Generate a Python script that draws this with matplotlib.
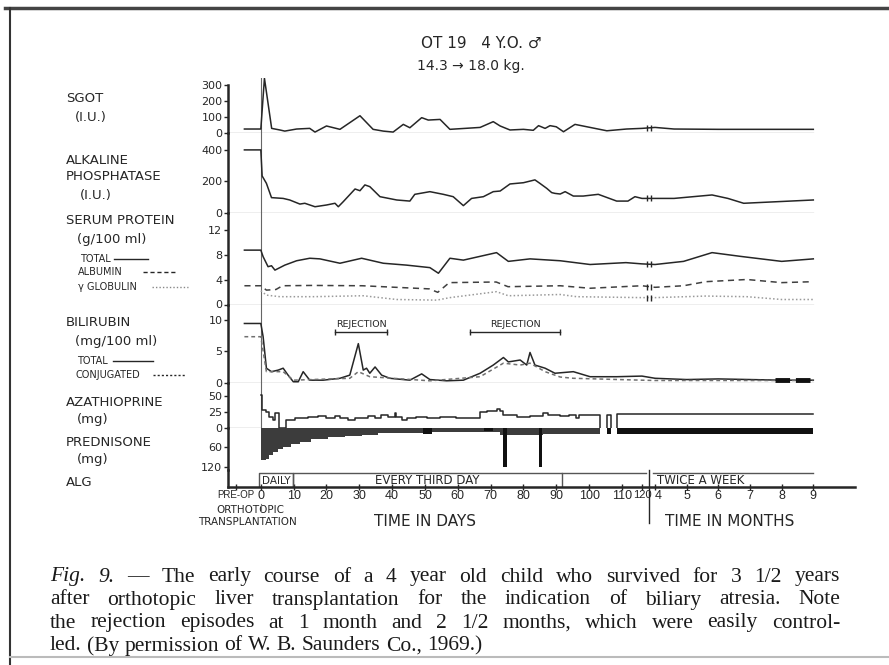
import numpy as np
import matplotlib
matplotlib.use("Agg")
import matplotlib.pyplot as plt

nan = np.nan

# ---- data (days after transplant / months) ----
SGOT_DAYS = [-5, 0, 1.1, 3.3, 5.8, 7.3, 10.9, 14.9, 16.5, 20, 24.1, 30.2, 34.2, 37.3, 40.3, 43.4,
             45.4, 49, 51, 54.6, 57.6, 66.8, 70.8, 72.9, 75.9, 80, 83, 84.6, 86.6, 88.1, 90,
             92.2, 95.7, 100.3, 105.4, 112.3, 120]
SGOT_IU = [23, 23, 340, 27, 17, 10, 23, 27, 4, 42, 21, 106, 21, 10, 4, 52,
           31, 94, 79, 83, 21, 33, 69, 42, 17, 21, 15, 44, 27, 44, 37,
           6, 52, 33, 12, 23, 27]
SGOT_MONTHS = [4, 4.6, 6, 8, 9]
SGOT_IU_M = [33, 23, 21, 21, 21]

ALK_DAYS = [-5, 0, 0.4, 1.7, 3.25, 6.8, 8.8, 11.9, 13.4, 16.5, 20, 22.6, 23.6, 25.1, 28.7, 30.2,
            31.7, 33.2, 36.3, 41.4, 45.4, 46.9, 51.5, 55.6, 58.6, 61.7, 64.2, 67.8, 70.8,
            72.9, 75.9, 80, 83.5, 85, 87.1, 88.6, 89.6, 91.2, 92.7, 95.2, 98.2, 102.8,
            108.4, 113, 116.5, 120]
ALK_IU = [400, 400, 234, 187, 96, 91, 81, 55, 60, 38, 49, 60, 38, 70, 151, 140,
          177, 166, 102, 81, 74, 117, 134, 117, 102, 45, 91, 102, 134,
          138, 183, 191, 209, 187, 155, 128, 123, 119, 134, 106, 106, 117,
          74, 74, 102, 91]
ALK_MONTHS = [4, 4.6, 5.8, 6.3, 6.8, 9]
ALK_IU_M = [91, 91, 113, 91, 60, 81]

TP_DAYS = [-5, 0, 0.7, 2.2, 3.25, 4.3, 7.3, 10.9, 14.9, 18, 24.1, 30.7, 37.3, 44.4, 51.5,
           54.1, 57.6, 61.7, 71.8, 75.4, 82, 91.2, 100.3, 112, 120]
TP_G = [8.7, 8.7, 7.65, 6.05, 6.2, 5.5, 6.3, 7.0, 7.4, 7.3, 6.6, 7.4, 6.6, 6.3, 5.9,
        5.0, 7.4, 7.1, 8.3, 6.9, 7.3, 7.0, 6.4, 6.7, 6.5]
TP_MONTHS = [4, 4.9, 5.8, 6.7, 8, 9]
TP_G_M = [6.4, 6.9, 8.3, 7.7, 6.9, 7.3]

ALB_DAYS = [-5, 0, 1.7, 4.6, 6.6, 15.7, 30.9, 41.1, 51.3, 53.9, 57.4, 71.7, 75.3, 91.2,
            100.3, 120]
ALB_G = [3.0, 3.0, 2.3, 2.4, 3.0, 3.05, 3.0, 2.75, 2.5, 1.95, 3.5, 3.6, 2.85, 3.0, 2.6, 3.0]
ALB_MONTHS = [4, 4.9, 5.6, 6.9, 8, 9]
ALB_G_M = [2.75, 3.0, 3.65, 4.0, 3.5, 3.65]

GG_DAYS = [0, 1.7, 5.8, 15.9, 31.2, 41.4, 53.6, 57.6, 71.8, 75.4, 91.2, 96.2, 120]
GG_G = [2.2, 1.5, 1.25, 1.25, 1.4, 0.8, 0.7, 1.1, 2.05, 1.4, 1.6, 1.25, 1.1]
GG_MONTHS = [4, 5.6, 6.9, 8, 9]
GG_G_M = [1.1, 1.35, 1.25, 0.8, 0.8]

BILI_DAYS = [-5, 0, 0.7, 1.7, 3.25, 5.3, 6.8, 8.3, 9.9, 11.4, 12.9, 14.9, 19, 24.1, 27.1,
             29.7, 31.2, 32.2, 33.2, 34.8, 36.8, 39.3, 45.4, 49, 51.5, 56.6, 61.7, 66.8,
             70.8, 73.9, 75.4, 79, 81, 82, 83.5, 86.6, 89.6, 95.2, 100.3, 108.4, 120]
BILI_MG = [9.4, 9.4, 7.3, 2.3, 1.75, 2.0, 2.3, 1.2, 0.15, 0.15, 1.75, 0.4, 0.4, 0.7, 1.2,
           6.2, 2.0, 2.3, 1.5, 2.5, 1.2, 0.7, 0.4, 1.4, 0.5, 0.3, 0.4, 1.5,
           2.8, 4.0, 3.3, 3.6, 2.8, 4.8, 2.8, 2.3, 1.5, 1.75, 0.95, 0.95, 1.05]
BILI_MONTHS = [4, 5, 6, 7, 8, 9]
BILI_MG_M = [0.7, 0.5, 0.6, 0.5, 0.4, 0.4]

CONJ_DAYS = [-5, 0, 1.7, 6.8, 9.9, 27.1, 29.7, 33.2, 51.5, 66.8, 73.9, 79, 82, 86.6, 91.2,
             95.2, 120]
CONJ_MG = [7.3, 7.3, 1.75, 1.75, 0.4, 0.7, 1.75, 0.95, 0.3, 0.95, 3.1, 2.8, 3.1, 1.75, 0.9,
           0.7, 0.4]
CONJ_MONTHS = [4, 9]
CONJ_MG_M = [0.35, 0.35]
BILI_BLOCK_MONTHS = [7.8, 9]
BILI_BLOCK_MG = [0.35, 0.35]

REJ_START = [22.6, 63.7]
REJ_END = [38.4, 91.2]

AZA_DAYS = [0, 0.4, 1.6, 2.6, 3.7, 4.2, 5.4, 7.7, 10.3, 14.3, 17.4, 19.9, 22.5, 24, 26.5,
            28.6, 32.6, 34.7, 36.7, 38.7, 40.8, 41.3, 42.9, 44.4, 47.4, 50.5, 54.5, 59.6,
            63.7, 66.7, 69, 71.8, 72.8, 73.9, 77.9, 82, 86.1, 87.5, 91, 94, 96, 97,
            103.4, 103.4, 105.5, 105.5, 106.7, 106.7, 108.4, 108.4, 120]
AZA_MG = [52, 28, 25, 17, 12, 24, 0, 12, 16, 17, 19, 15, 19, 15, 13,
          15, 18, 16, 20, 17, 23, 17, 12, 15, 17, 16, 17, 16,
          15, 25, 27, 30, 26, 20, 17, 18, 24, 20, 19, 20, 16, 20,
          0, nan, 0, 20, 0, nan, 0, 21, 21]
AZA_MONTHS = [4, 9]
AZA_MG_M = [21, 21]

PRED_DAYS = [0, 1.6, 2.6, 3.7, 5.2, 6.8, 9.3, 11.9, 15.4, 20.5, 25.6, 30.7, 35.7, 41.8, 50,
             60, 71, 72.8, 86, 103.4, 103.4, 105.5, 106.7, 106.7, 108.4, 120]
PRED_MG = [99, 96, 84, 74, 66, 58, 51, 43, 36, 30, 25, 21, 17, 15, 14,
           13, 12, 23, 20, 0, nan, 20, 0, nan, 20, 20]
PRED_MONTHS = [4, 9]
PRED_MG_M = [20, 20]
PRED_PATCH_START = [49.5, 68.0]
PRED_PATCH_END = [52.0, 70.8]
PRED_PATCH_MG = [20, 10]
PRED_PULSE_DAYS = [74.5, 85.2]
PRED_PULSE_MG = [120, 120]

ALG_LABELS = ["DAILY", "EVERY THIRD DAY"]
ALG_START = [-0.6, 9.8]
ALG_END = [9.8, 91.7]
ALG_LATE_LABEL = "TWICE A WEEK"

DAY_TICKS = [0, 10, 20, 30, 40, 50, 60, 70, 80, 90, 100, 110, 120]
DAY_TICK_LABELS = ["0", "10", "20", "30", "40", "50", "60", "70", "80", "90", "100", "110", "120"]
MONTH_TICKS = [4, 5, 6, 7, 8, 9]

# ---- x mapping: days (compressed after 110), then a break, then months ----
DAY_KNOTS = [-10, 110, 120]
T_KNOTS = [-10, 110, 116.1]
BREAK_T = 118.2


def dx(d):
    return np.interp(np.asarray(d, float), DAY_KNOTS, T_KNOTS)


def mx(m):
    return 120.1 + (np.asarray(m, float) - 4) * 9.64


def series(days, vals, months, mvals):
    t = np.concatenate([dx(days), mx(months)])
    v = np.concatenate([np.asarray(vals, float), np.asarray(mvals, float)])
    return t, v


W, H = 889, 665
INK = "#262626"
fig = plt.figure(figsize=(W / 100, H / 100), dpi=100)
plt.rcParams["font.family"] = ["DejaVu Sans"]

X0, X1 = -10, 181


def panel(top, bottom, zero_px, px_per_unit, invert=False):
    ax = fig.add_axes([228 / W, 1 - bottom / H, (855 - 228) / W, (bottom - top) / H])
    ax.patch.set_alpha(0)
    lo = -(bottom - zero_px) / px_per_unit
    hi = (zero_px - top) / px_per_unit
    if invert:
        ax.set_ylim(-lo, -hi)
    else:
        ax.set_ylim(lo, hi)
    ax.set_xlim(X0, X1)
    for s in ["top", "right", "bottom"]:
        ax.spines[s].set_visible(False)
    ax.spines["left"].set_linewidth(1.8)
    ax.spines["left"].set_color(INK)
    ax.set_xticks([])
    ax.tick_params(axis="y", direction="out", length=3, width=1, labelsize=8,
                   pad=1, colors=INK)
    return ax


def zero_line(ax):
    ax.plot([X0, mx(9)], [0, 0], color="#7a7a7a", lw=0.9, zorder=1)


def break_marks(ax, y):
    ax.plot([BREAK_T - 0.7, BREAK_T + 0.7], [y, y], ls="none", marker="|",
            ms=5, mew=1, color=INK, zorder=4)


line_kw = dict(color=INK, lw=1.1, zorder=3)

# SGOT
ax = panel(78, 133, 132.7, 0.16)
ax.spines["left"].set_bounds(0, 300)
ax.set_yticks([0, 100, 200, 300])
zero_line(ax)
ax.axvline(dx(0), color="#666", lw=0.8)
t, v = series(SGOT_DAYS, SGOT_IU, SGOT_MONTHS, SGOT_IU_M)
ax.plot(t, v, **line_kw)
break_marks(ax, 28)

# Alkaline phosphatase
ax = panel(133, 213, 212.7, 0.157)
ax.set_yticks([0, 200, 400])
zero_line(ax)
ax.axvline(dx(0), color="#666", lw=0.8)
t, v = series(ALK_DAYS, ALK_IU, ALK_MONTHS, ALK_IU_M)
ax.plot(t, v, **line_kw)
break_marks(ax, 91)

# Serum protein
ax = panel(213, 305, 304.5, 6.25)
ax.set_yticks([0, 4, 8, 12])
zero_line(ax)
ax.axvline(dx(0), color="#666", lw=0.8)
t, v = series(TP_DAYS, TP_G, TP_MONTHS, TP_G_M)
ax.plot(t, v, **line_kw)
t, v = series(ALB_DAYS, ALB_G, ALB_MONTHS, ALB_G_M)
ax.plot(t, v, color="#404040", lw=1.1, ls=(0, (4, 3)), zorder=3)
t, v = series(GG_DAYS, GG_G, GG_MONTHS, GG_G_M)
ax.plot(t, v, color="#9a9a9a", lw=1.1, ls=(0, (1, 1.5)), zorder=3)
break_marks(ax, 6.5)
break_marks(ax, 2.8)
break_marks(ax, 1.1)

# Bilirubin
ax = panel(305, 383, 382.7, 6.3)
ax.set_yticks([0, 5, 10])
zero_line(ax)
ax.axvline(dx(0), color="#666", lw=0.8)
t, v = series(BILI_DAYS, BILI_MG, BILI_MONTHS, BILI_MG_M)
ax.plot(t, v, **line_kw)
t, v = series(CONJ_DAYS, CONJ_MG, CONJ_MONTHS, CONJ_MG_M)
ax.plot(t, v, color="#707070", lw=1.1, ls=(0, (2.5, 2)), zorder=3)
ax.plot(mx(BILI_BLOCK_MONTHS), BILI_BLOCK_MG, color="#111", lw=3.5,
        ls=(0, (3, 1.2)), zorder=4)
for s, e in zip(REJ_START, REJ_END):
    ax.text((dx(s) + dx(e)) / 2, 9.3, "REJECTION", ha="center", va="center",
            fontsize=6.8, color=INK)
    ax.plot([dx(s), dx(e)], [8.1, 8.1], color=INK, lw=1, marker="|", ms=4, mew=1)

# Azathioprine
ax = panel(383, 427.7, 427.7, 0.63)
ax.set_yticks([25, 50])
ax.axvline(dx(0), color="#666", lw=0.8)
ax.plot([X0, dx(0)], [0.3, 0.3], color="#7a7a7a", lw=0.9)
t, v = series(AZA_DAYS, AZA_MG, AZA_MONTHS, AZA_MG_M)
ax.step(t, v, where="post", **line_kw)

# Prednisone (drawn downward)
ax = panel(427.7, 470, 427.7, 0.325, invert=True)
ax.set_yticks([0, 60, 120])
t, v = series(PRED_DAYS, PRED_MG, PRED_MONTHS, PRED_MG_M)
ax.fill_between(t, 0, v, step="post", color="#3c3c3c", lw=0, zorder=2)
ax.fill_between(t, 0, v, where=t >= dx(99), step="post", color="#111", lw=0, zorder=2)
ps, pe = dx(PRED_PATCH_START), dx(PRED_PATCH_END)
ax.bar(ps, PRED_PATCH_MG, width=pe - ps, align="edge", color="#111", zorder=3)
ax.bar(dx(PRED_PULSE_DAYS), PRED_PULSE_MG, width=1.2, color="#111", zorder=3)

# ALG band + x axis
ax = panel(470, 487, 487, 17)
ax.set_ylim(0, 1)
ax.set_yticks([])
ax.spines["bottom"].set_visible(True)
ax.spines["bottom"].set_linewidth(1.8)
ax.spines["bottom"].set_color(INK)
box_top = 0.82
for lab_txt, s, e in zip(ALG_LABELS, ALG_START, ALG_END):
    ax.plot([dx(s), dx(s), dx(e), dx(e)], [0, box_top, box_top, 0], color="#555", lw=1)
    ax.text((dx(s) + dx(e)) / 2, 0.38, lab_txt, ha="center", va="center",
            fontsize=7.5 if lab_txt == "DAILY" else 8.5, color=INK)
ax.plot([dx(ALG_END[-1]), BREAK_T - 0.8], [box_top, box_top], color="#555", lw=1)
ax.plot([mx(4) - 0.5, mx(9)], [box_top, box_top], color="#555", lw=1)
ax.text(mx(4.05), 0.38, ALG_LATE_LABEL, ha="left", va="center", fontsize=8.5, color=INK)
ax.plot([BREAK_T, BREAK_T], [1.0, -2.1], color=INK, lw=1, clip_on=False)
ax.plot([dx(0), dx(0)], [-1.0, -1.4], color="#777", lw=0.8, clip_on=False)

xt = [dx(-7.5)] + list(dx(DAY_TICKS)) + list(mx(MONTH_TICKS))
xl = ["PRE-OP"] + DAY_TICK_LABELS + [str(m) for m in MONTH_TICKS]
ax.set_xticks(xt)
ax.set_xticklabels(xl, family="Liberation Sans")
ax.tick_params(axis="x", direction="inout", length=4, width=1, labelsize=9, pad=0.5,
               colors=INK)
tl = ax.get_xticklabels()
tl[0].set_fontsize(7)
tl[len(DAY_TICKS)].set_fontsize(8)
tl[len(DAY_TICKS) + 1].set_horizontalalignment("left")

# ---- texts and frame in figure pixel coordinates ----
lab = fig.add_axes([0, 0, 1, 1], zorder=-1)
lab.set_xlim(0, W)
lab.set_ylim(H, 0)
lab.axis("off")

lab.plot([5, W], [8, 8], color="#444", lw=2.5)
lab.plot([10, 10], [8, H], color="#333", lw=1.5)
lab.plot([10, W], [657, 657], color="#bbb", lw=1.5)

lab.text(481, 43, "OT 19   4 Y.O. ♂", ha="center", va="center", fontsize=11, color=INK)
lab.text(471, 66, "14.3 → 18.0 kg.", ha="center", va="center", fontsize=10, color=INK)

big = dict(fontsize=9.5, color=INK, va="center", ha="left")
small = dict(fontsize=7, color=INK, va="center", ha="left")
for x, y, s in [(66, 99, "SGOT"), (75, 117, "(I.U.)"),
                (66, 160, "ALKALINE"), (66, 177, "PHOSPHATASE"), (80, 196, "(I.U.)"),
                (66, 221, "SERUM PROTEIN"), (77, 240, "(g/100 ml)"),
                (66, 323, "BILIRUBIN"), (75, 342, "(mg/100 ml)"),
                (66, 402, "AZATHIOPRINE"), (77, 420, "(mg)"),
                (66, 442, "PREDNISONE"), (77, 459, "(mg)"), (66, 482, "ALG")]:
    lab.text(x, y, s, **big)
for x, y, s in [(80, 259, "TOTAL"), (78, 272, "ALBUMIN"), (78, 287, "γ GLOBULIN"),
                (77, 361, "TOTAL"), (75, 375, "CONJUGATED")]:
    lab.text(x, y, s, **small)
lab.plot([114, 148], [259, 259], color=INK, lw=1)
lab.plot([143, 177], [272, 272], color=INK, lw=1, ls=(0, (3, 2)))
lab.plot([152, 188], [287, 287], color="#888", lw=1, ls=(0, (1, 1.5)))
lab.plot([113, 153], [361, 361], color=INK, lw=1)
lab.plot([153, 185], [375, 375], color=INK, lw=1, ls=(0, (1.5, 1.5)))

lab.text(250, 510, "ORTHOTOPIC", ha="center", va="center", fontsize=7.5, color=INK)
lab.text(247, 522, "TRANSPLANTATION", ha="center", va="center", fontsize=7.5, color=INK)
lab.text(425, 521, "TIME IN DAYS", ha="center", va="center", fontsize=11, color=INK)
lab.text(665, 521, "TIME IN MONTHS", ha="left", va="center", fontsize=11, color=INK)

# caption, justified between x=50 and x=840
CAPTION = ["Fig. 9. — The early course of a 4 year old child who survived for 3 1/2 years",
           "after orthotopic liver transplantation for the indication of biliary atresia. Note",
           "the rejection episodes at 1 month and 2 1/2 months, which were easily control-",
           "led. (By permission of W. B. Saunders Co., 1969.)"]
cap_kw = dict(family="Liberation Serif", fontsize=15.5, color="#1a1a1a", va="center")
renderer = fig.canvas.get_renderer()


def width_of(s, **kw):
    tt = lab.text(0, 0, s, **kw)
    w = tt.get_window_extent(renderer).width
    tt.remove()
    return w


space = width_of("a b", **cap_kw) - width_of("ab", **cap_kw)
for i, line in enumerate(CAPTION):
    words = line.split(" ")
    styles = ["italic" if (i == 0 and j < 2) else "normal" for j in range(len(words))]
    widths = [width_of(w_, style=st, **cap_kw) for w_, st in zip(words, styles)]
    if i < len(CAPTION) - 1:
        gap = (840 - 50 - sum(widths)) / (len(words) - 1)
    else:
        gap = space
    x = 50
    for w_, st, ww in zip(words, styles, widths):
        lab.text(x, 577 + 23 * i, w_, style=st, **cap_kw)
        x += ww + gap

fig.savefig("out.png", dpi=100)
